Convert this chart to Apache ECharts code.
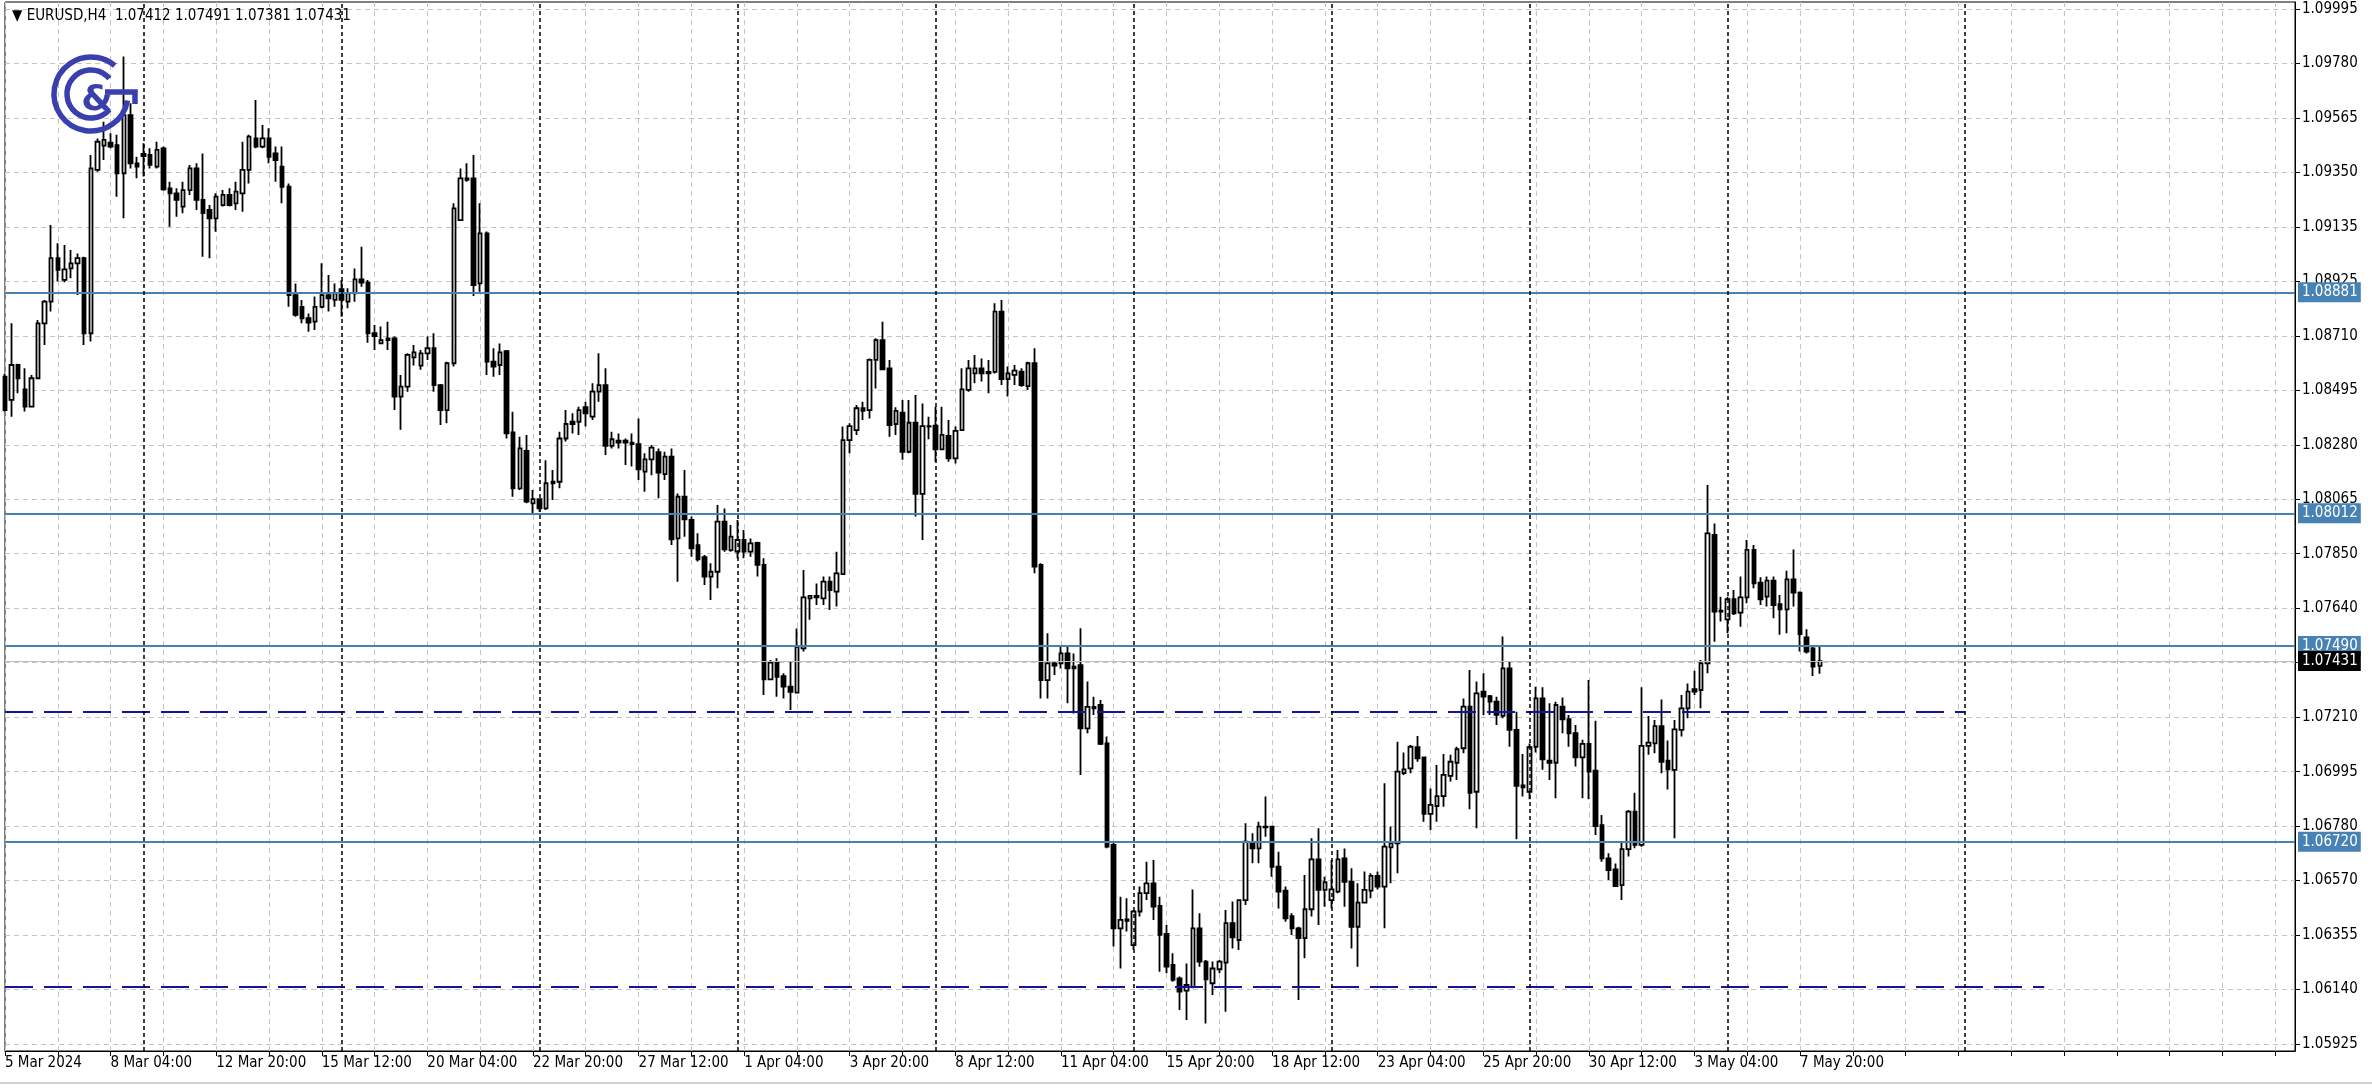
<!DOCTYPE html>
<html><head><meta charset="utf-8">
<script src="https://cdn.jsdelivr.net/npm/echarts@6/dist/echarts.min.js"></script>
<style>html,body{margin:0;padding:0;background:#fff;overflow:hidden}#c{width:2372px;height:1089px}</style>
</head><body><div id="c"></div>
<script>
// ---- DATA (EURUSD H4, first visible bar = 5 Mar 2024 12:00) ----
const opens = [1.08549,1.08458,1.08595,1.08499,1.08431,1.08543,1.08759,1.08844,1.09015,1.08930,1.08975,1.08995,1.09015,1.08720,1.09362,1.09458,1.09469,1.09460,1.09349,1.09578,1.09388,1.09425,1.09421,1.09375,1.09447,1.09290,1.09270,1.09218,1.09283,1.09368,1.09244,1.09205,1.09172,1.09224,1.09264,1.09231,1.09270,1.09362,1.09486,1.09454,1.09486,1.09427,1.09375,1.09296,1.08870,1.08824,1.08779,1.08766,1.08824,1.08870,1.08851,1.08893,1.08844,1.08877,1.08932,1.08919,1.08720,1.08680,1.08700,1.08700,1.08471,1.08510,1.08625,1.08593,1.08641,1.08661,1.08516,1.08418,1.08602,1.09165,1.09329,1.09329,1.08916,1.09113,1.08608,1.08595,1.08650,1.08330,1.08110,1.08257,1.08051,1.08068,1.08031,1.08136,1.08136,1.08306,1.08372,1.08372,1.08429,1.08392,1.08490,1.08516,1.08277,1.08298,1.08298,1.08290,1.08284,1.08176,1.08224,1.08252,1.08166,1.08235,1.07913,1.08077,1.07986,1.07887,1.07839,1.07763,1.07782,1.07979,1.07867,1.07861,1.07907,1.07861,1.07896,1.07809,1.07359,1.07425,1.07372,1.07330,1.07307,1.07481,1.07677,1.07687,1.07677,1.07743,1.07704,1.07773,1.08300,1.08339,1.08425,1.08418,1.08615,1.08693,1.08582,1.08363,1.08408,1.08254,1.08368,1.08088,1.08355,1.08357,1.08263,1.08316,1.08228,1.08339,1.08497,1.08562,1.08582,1.08568,1.08568,1.08805,1.08540,1.08556,1.08569,1.08512,1.08602,1.07809,1.07356,1.07422,1.07422,1.07461,1.07409,1.07415,1.07166,1.07251,1.07258,1.07107,1.06708,1.06380,1.06415,1.06314,1.06446,1.06518,1.06557,1.06468,1.06358,1.06236,1.06183,1.06135,1.06150,1.06380,1.06249,1.06164,1.06219,1.06245,1.06400,1.06334,1.06491,1.06717,1.06694,1.06777,1.06780,1.06622,1.06528,1.06428,1.06380,1.06341,1.06455,1.06651,1.06531,1.06491,1.06524,1.06655,1.06563,1.06386,1.06481,1.06528,1.06586,1.06544,1.06698,1.06714,1.06990,1.07009,1.07092,1.07052,1.06830,1.06861,1.06900,1.06979,1.07031,1.07088,1.07252,1.06917,1.07311,1.07293,1.07271,1.07215,1.07402,1.07160,1.06942,1.06917,1.07094,1.07284,1.07039,1.07031,1.07252,1.07202,1.07147,1.07052,1.07105,1.07000,1.06786,1.06655,1.06612,1.06550,1.06691,1.06839,1.06708,1.07097,1.07107,1.07175,1.07039,1.07003,1.07160,1.07245,1.07320,1.07317,1.07422,1.07927,1.07629,1.07595,1.07674,1.07621,1.07681,1.07868,1.07739,1.07684,1.07747,1.07655,1.07634,1.07752,1.07700,1.07524,1.07481,1.07412];
const highs = [1.08560,1.08759,1.08600,1.08582,1.08556,1.08772,1.08851,1.09146,1.09074,1.09067,1.09047,1.09034,1.09021,1.09421,1.09486,1.09552,1.09506,1.09500,1.09808,1.09624,1.09414,1.09467,1.09447,1.09473,1.09454,1.09316,1.09290,1.09316,1.09382,1.09388,1.09427,1.09224,1.09270,1.09283,1.09290,1.09316,1.09473,1.09500,1.09637,1.09539,1.09526,1.09454,1.09454,1.09309,1.08916,1.08851,1.08798,1.08864,1.08995,1.08949,1.08916,1.08929,1.08897,1.08975,1.09060,1.08929,1.08752,1.08746,1.08765,1.08707,1.08556,1.08641,1.08674,1.08654,1.08707,1.08720,1.08520,1.08608,1.09231,1.09368,1.09388,1.09421,1.09231,1.09120,1.08661,1.08680,1.08654,1.08411,1.08313,1.08320,1.08104,1.08071,1.08221,1.08182,1.08333,1.08418,1.08405,1.08431,1.08451,1.08523,1.08641,1.08582,1.08333,1.08326,1.08306,1.08326,1.08385,1.08248,1.08280,1.08267,1.08254,1.08267,1.08090,1.08182,1.07999,1.07933,1.07848,1.07815,1.08045,1.08031,1.07966,1.07986,1.07946,1.07913,1.07900,1.07835,1.07435,1.07442,1.07383,1.07428,1.07559,1.07789,1.07690,1.07736,1.07763,1.07763,1.07861,1.08353,1.08366,1.08438,1.08451,1.08621,1.08700,1.08765,1.08615,1.08429,1.08457,1.08457,1.08477,1.08444,1.08392,1.08431,1.08431,1.08379,1.08353,1.08582,1.08615,1.08634,1.08621,1.08615,1.08838,1.08851,1.08589,1.08595,1.08582,1.08608,1.08661,1.07815,1.07540,1.07428,1.07488,1.07488,1.07461,1.07560,1.07350,1.07291,1.07278,1.07134,1.06721,1.06504,1.06498,1.06452,1.06544,1.06642,1.06649,1.06504,1.06393,1.06282,1.06190,1.06242,1.06533,1.06439,1.06255,1.06249,1.06255,1.06452,1.06485,1.06491,1.06793,1.06754,1.06799,1.06898,1.06782,1.06681,1.06544,1.06439,1.06386,1.06590,1.06734,1.06773,1.06583,1.06649,1.06688,1.06694,1.06616,1.06557,1.06603,1.06596,1.06603,1.06950,1.06780,1.07114,1.07071,1.07101,1.07136,1.07055,1.06930,1.07022,1.07065,1.07062,1.07094,1.07284,1.07396,1.07350,1.07383,1.07297,1.07291,1.07527,1.07429,1.07232,1.07065,1.07107,1.07330,1.07328,1.07265,1.07271,1.07288,1.07219,1.07179,1.07121,1.07356,1.07196,1.06826,1.06675,1.06635,1.06721,1.06845,1.06913,1.07328,1.07215,1.07199,1.07280,1.07118,1.07199,1.07297,1.07343,1.07393,1.07435,1.08123,1.07972,1.07684,1.07684,1.07710,1.07763,1.07907,1.07887,1.07760,1.07763,1.07763,1.07691,1.07786,1.07870,1.07704,1.07556,1.07488,1.07491];
const lows = [1.08412,1.08392,1.08484,1.08412,1.08428,1.08540,1.08674,1.08805,1.08923,1.08920,1.08936,1.08870,1.08674,1.08687,1.09355,1.09401,1.09447,1.09257,1.09172,1.09368,1.09329,1.09336,1.09368,1.09368,1.09280,1.09139,1.09178,1.09192,1.09264,1.09205,1.09021,1.09015,1.09119,1.09218,1.09218,1.09205,1.09198,1.09309,1.09447,1.09447,1.09388,1.09316,1.09231,1.08824,1.08785,1.08759,1.08726,1.08733,1.08818,1.08805,1.08824,1.08785,1.08818,1.08844,1.08903,1.08683,1.08654,1.08678,1.08654,1.08418,1.08340,1.08490,1.08593,1.08576,1.08615,1.08490,1.08359,1.08366,1.08589,1.09165,1.09316,1.08866,1.08883,1.08556,1.08549,1.08556,1.08306,1.08077,1.08104,1.08051,1.08012,1.08018,1.08025,1.08064,1.08110,1.08294,1.08326,1.08320,1.08353,1.08379,1.08451,1.08241,1.08267,1.08267,1.08202,1.08196,1.08143,1.08097,1.08162,1.08071,1.08143,1.07887,1.07743,1.07920,1.07841,1.07822,1.07730,1.07671,1.07717,1.07861,1.07861,1.07835,1.07835,1.07841,1.07763,1.07297,1.07356,1.07291,1.07284,1.07238,1.07304,1.07468,1.07593,1.07651,1.07651,1.07632,1.07645,1.07769,1.08248,1.08320,1.08379,1.08385,1.08503,1.08575,1.08313,1.08320,1.08222,1.08248,1.07999,1.07907,1.08303,1.08215,1.08261,1.08215,1.08208,1.08339,1.08490,1.08523,1.08530,1.08484,1.08562,1.08516,1.08471,1.08516,1.08510,1.08497,1.07776,1.07284,1.07284,1.07376,1.07402,1.07265,1.07225,1.06983,1.07147,1.07219,1.07101,1.06695,1.06308,1.06222,1.06367,1.06295,1.06426,1.06491,1.06413,1.06209,1.06203,1.06170,1.06059,1.06019,1.06144,1.06229,1.06006,1.06118,1.06203,1.06052,1.06301,1.06295,1.06472,1.06636,1.06636,1.06740,1.06583,1.06458,1.06406,1.06354,1.06098,1.06262,1.06426,1.06393,1.06465,1.06458,1.06518,1.06465,1.06301,1.06229,1.06478,1.06498,1.06533,1.06380,1.06557,1.06596,1.06983,1.06990,1.07035,1.06799,1.06767,1.06799,1.06858,1.06957,1.06963,1.07068,1.06848,1.06773,1.07219,1.07219,1.07179,1.07206,1.07094,1.06730,1.06898,1.06887,1.07071,1.07003,1.06963,1.06891,1.07147,1.07094,1.07016,1.06891,1.06887,1.06747,1.06642,1.06570,1.06544,1.06491,1.06662,1.06695,1.06701,1.07062,1.07068,1.06990,1.06926,1.06734,1.07134,1.07206,1.07297,1.07245,1.07383,1.07507,1.07586,1.07540,1.07612,1.07566,1.07658,1.07717,1.07651,1.07645,1.07599,1.07534,1.07540,1.07645,1.07468,1.07461,1.07372,1.07381];
const closes = [1.08418,1.08595,1.08543,1.08431,1.08543,1.08759,1.08844,1.09015,1.08969,1.08971,1.08995,1.09015,1.08720,1.09368,1.09473,1.09480,1.09454,1.09349,1.09578,1.09388,1.09375,1.09417,1.09382,1.09441,1.09286,1.09270,1.09244,1.09283,1.09368,1.09244,1.09192,1.09172,1.09257,1.09264,1.09224,1.09277,1.09362,1.09493,1.09454,1.09486,1.09414,1.09401,1.09296,1.08870,1.08792,1.08779,1.08762,1.08824,1.08870,1.08857,1.08877,1.08851,1.08877,1.08932,1.08919,1.08720,1.08709,1.08693,1.08693,1.08471,1.08510,1.08635,1.08645,1.08641,1.08661,1.08516,1.08418,1.08602,1.09211,1.09329,1.09323,1.08909,1.09113,1.08608,1.08589,1.08645,1.08326,1.08110,1.08267,1.08058,1.08068,1.08031,1.08130,1.08130,1.08306,1.08363,1.08363,1.08418,1.08405,1.08490,1.08516,1.08277,1.08303,1.08290,1.08290,1.08284,1.08185,1.08224,1.08270,1.08172,1.08235,1.07909,1.08077,1.07988,1.07874,1.07831,1.07763,1.07782,1.07979,1.07870,1.07920,1.07907,1.07861,1.07894,1.07809,1.07359,1.07425,1.07369,1.07330,1.07310,1.07487,1.07681,1.07687,1.07681,1.07743,1.07710,1.07776,1.08300,1.08355,1.08425,1.08415,1.08615,1.08693,1.08578,1.08359,1.08415,1.08254,1.08368,1.08088,1.08355,1.08353,1.08263,1.08320,1.08228,1.08336,1.08499,1.08582,1.08582,1.08562,1.08562,1.08805,1.08540,1.08562,1.08573,1.08516,1.08602,1.07802,1.07356,1.07422,1.07413,1.07461,1.07402,1.07402,1.07166,1.07251,1.07245,1.07105,1.06701,1.06380,1.06413,1.06409,1.06446,1.06518,1.06557,1.06465,1.06354,1.06229,1.06177,1.06131,1.06157,1.06380,1.06249,1.06179,1.06222,1.06249,1.06400,1.06344,1.06491,1.06721,1.06694,1.06780,1.06780,1.06622,1.06524,1.06419,1.06380,1.06341,1.06455,1.06651,1.06531,1.06561,1.06533,1.06651,1.06563,1.06386,1.06481,1.06531,1.06586,1.06544,1.06701,1.06714,1.06996,1.07005,1.07094,1.07048,1.06830,1.06865,1.06900,1.06983,1.07035,1.07084,1.07252,1.06913,1.07304,1.07291,1.07271,1.07219,1.07402,1.07160,1.06940,1.06934,1.07092,1.07284,1.07044,1.07031,1.07258,1.07202,1.07147,1.07052,1.07105,1.06996,1.06782,1.06655,1.06609,1.06546,1.06691,1.06839,1.06708,1.07097,1.07110,1.07175,1.07035,1.07005,1.07162,1.07245,1.07311,1.07311,1.07422,1.07933,1.07625,1.07625,1.07674,1.07618,1.07681,1.07868,1.07736,1.07674,1.07747,1.07651,1.07634,1.07752,1.07700,1.07537,1.07468,1.07409,1.07431];

const xTickLabels = ['5 Mar 2024','8 Mar 04:00','12 Mar 20:00','15 Mar 12:00','20 Mar 04:00','22 Mar 20:00','27 Mar 12:00','1 Apr 04:00','3 Apr 20:00','8 Apr 12:00','11 Apr 04:00','15 Apr 20:00','18 Apr 12:00','23 Apr 04:00','25 Apr 20:00','30 Apr 12:00','3 May 04:00','7 May 20:00'];
const yTickLabels = ['1.05925','1.06140','1.06355','1.06570','1.06780','1.06995','1.07210','1.07425','1.07640','1.07850','1.08065','1.08280','1.08495','1.08710','1.08925','1.09135','1.09350','1.09565','1.09780','1.09995'];
const levelLines = [1.08881, 1.08012, 1.07490, 1.06720];
const dashedLevels = [1.0723, 1.0615];
const dashedEndBar = [297, 309];         // bar offset (from first visible bar) where each dashed level ends
const separatorBars = [21, 51, 81, 111, 141, 171, 201, 231, 261, 297]; // period separators / vertical line
const bidPrice = 1.07431;
const titleText = '\u25BC EURUSD,H4  1.07412 1.07491 1.07381 1.07431';

// ---- build ----
const TOTAL_SLOTS = 348;
function buildCategories(n){
  const out=[]; let t=Date.UTC(2024,2,5,12);
  const mon=['Jan','Feb','Mar','Apr','May','Jun'];
  while(out.length<n){
    const d=new Date(t); const wd=d.getUTCDay();
    if(wd!==0&&wd!==6){ out.push(d.getUTCDate()+' '+mon[d.getUTCMonth()]+' '+String(d.getUTCHours()).padStart(2,'0')+':00'); }
    t+=4*3600e3;
  }
  return out;
}
const cats = buildCategories(TOTAL_SLOTS);
const candleData = opens.map((o,i)=>[o, closes[i], lows[i], highs[i]]);
const yMinLabel = parseFloat(yTickLabels[0]), yMaxLabel = parseFloat(yTickLabels[yTickLabels.length-1]);
const yStep = (yMaxLabel - yMinLabel)/(yTickLabels.length-1);
const yTickValues = yTickLabels.map((s,i)=> yMinLabel + i*yStep);
const FONT = '"DejaVu Sans Condensed","DejaVu Sans",sans-serif';
const FS = 15;
const LOGO = '#3a3fae';

const boxLabel = (v,bg)=>({show:true,position:'end',formatter:v.toFixed(5),color:'#fff',backgroundColor:bg,padding:[2,3,1,4],lineHeight:17,distance:3,fontSize:FS,fontFamily:FONT});
const markLines = [];
levelLines.forEach(v=>markLines.push({yAxis:v, lineStyle:{color:'#4682b4',width:2,type:'solid'}, label:boxLabel(v,'#4682b4')}));
markLines.push({yAxis:bidPrice, lineStyle:{color:'#c0c0c0',width:1,type:'solid'}, label:boxLabel(bidPrice,'#000')});
dashedLevels.forEach((v,i)=>markLines.push([{coord:[cats[0],v], lineStyle:{color:'#14149a',width:2,type:[28,11]}, label:{show:false}},{coord:[cats[dashedEndBar[i]],v]}]));
separatorBars.forEach(b=>markLines.push({xAxis:cats[b], lineStyle:{color:'#000',width:1.5,type:[4,3]}, label:{show:false}}));

const chart = echarts.init(document.getElementById('c'), null, {renderer:'canvas'});
chart.setOption({
  animation:false,
  backgroundColor:'#fff',
  grid:{left:5,right:77,top:2,bottom:38,show:true,borderColor:'#000',borderWidth:1,backgroundColor:'transparent'},
  xAxis:{type:'category',data:cats,boundaryGap:false,
    axisLine:{show:true,lineStyle:{color:'#000',width:1}},
    axisTick:{show:true,interval:(i)=>i%8===0,length:5,lineStyle:{color:'#000'}},
    axisLabel:{show:true,interval:(i)=>i%16===0,formatter:(v,i)=>xTickLabels[i/16]||'',align:'left',margin:5,color:'#000',fontSize:FS,fontFamily:FONT},
    splitLine:{show:true,interval:(i)=>i%8===0,lineStyle:{color:'#c4c4c4',type:[5,4],width:1}}},
  yAxis:{type:'value',position:'right',scale:true,min:1.058975,max:1.100225,
    axisLine:{show:true,lineStyle:{color:'#000'}},
    axisTick:{show:true,customValues:yTickValues,length:5,lineStyle:{color:'#000'}},
    axisLabel:{show:true,customValues:yTickValues,margin:7,color:'#000',fontSize:FS,fontFamily:FONT,
      formatter:(v)=>{let bi=0,bd=1;yTickValues.forEach((t,i)=>{const d=Math.abs(t-v);if(d<bd){bd=d;bi=i;}});return yTickLabels[bi];}},
    splitLine:{show:true,lineStyle:{color:'#c4c4c4',type:[5,4],width:1}}},
  series:[{type:'candlestick',data:candleData,barWidth:4,
    itemStyle:{color:'#fff',color0:'#000',borderColor:'#000',borderColor0:'#000',borderWidth:1.8},
    markLine:{silent:true,precision:6,symbol:['none','none'],animation:false,data:markLines}}],
  graphic:[
    {type:'text',left:12,top:9,style:{text:titleText,font:FS+'px '+FONT,fill:'#000'},z:100},
    {type:'arc',shape:{cx:91,cy:94,r:37,startAngle:10*Math.PI/180,endAngle:310*Math.PI/180,clockwise:true},style:{stroke:LOGO,lineWidth:5.5,fill:null},z:100},
    {type:'arc',shape:{cx:91,cy:94,r:24,startAngle:40*Math.PI/180,endAngle:320*Math.PI/180,clockwise:true},style:{stroke:LOGO,lineWidth:5.5,fill:null},z:100},
    {type:'polyline',shape:{points:[[105,92],[135,92],[135,104]]},style:{stroke:LOGO,lineWidth:5.5,fill:null},z:100},
    {type:'text',x:97,y:101,style:{text:'&',font:'bold 36px "DejaVu Sans"',fill:LOGO,align:'center',verticalAlign:'middle'},z:100},
    {type:'line',shape:{x1:0,y1:1083,x2:2372,y2:1083},style:{stroke:'#a0a0a0',lineWidth:1},z:100}
  ]
});
</script></body></html>
